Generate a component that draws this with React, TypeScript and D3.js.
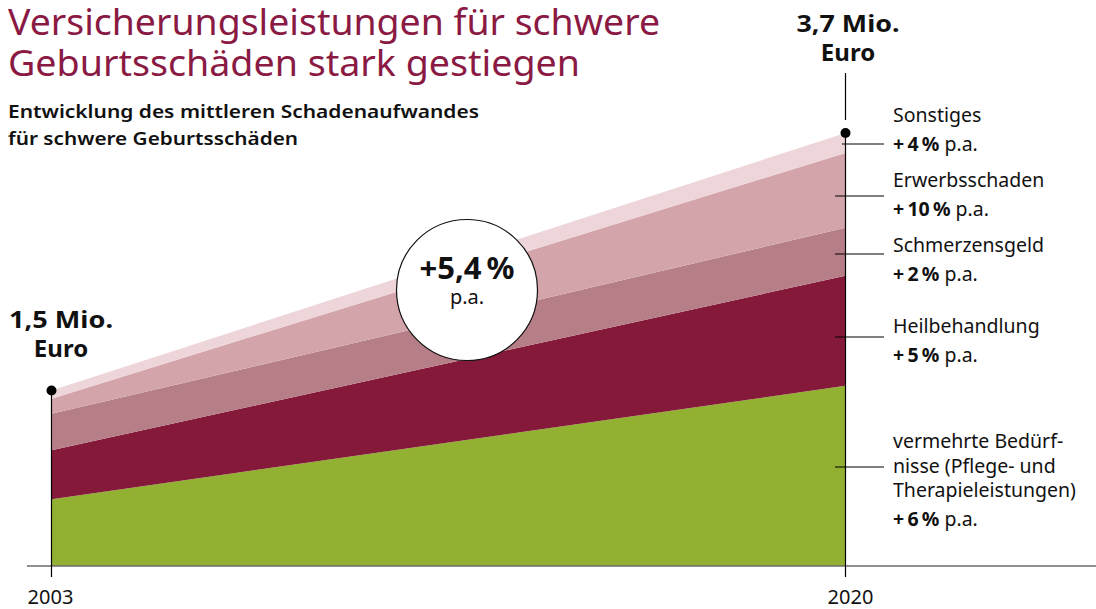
import React from "react";
import * as d3 from "d3";

const years = [2003, 2020];
const seriesNames = ["vermehrte Bedürfnisse", "Heilbehandlung", "Schmerzensgeld", "Erwerbsschaden", "Sonstiges"];
const vermehrteBeduerfnisse = [0.57, 1.54];
const heilbehandlung = [0.42, 0.94];
const schmerzensgeld = [0.31, 0.41];
const erwerbsschaden = [0.13, 0.64];
const sonstiges = [0.07, 0.17];
const totalLabels = ["1,5 Mio.", "3,7 Mio."];
const growthLabels = ["+\u202F6\u202F%", "+\u202F5\u202F%", "+\u202F2\u202F%", "+\u202F10\u202F%", "+\u202F4\u202F%"];
const overallGrowth = "+5,4\u202F%";

const colors = ["#92b132", "#851939", "#b67f88", "#d3a4aa", "#edd5d9"];
const FONT = "'Noto Sans', 'Open Sans', sans-serif";

export default function App() {
  const W = 1096, H = 609;
  const x = d3.scaleLinear().domain([2003, 2020]).range([51.5, 845.5]);
  const y = d3.scaleLinear().domain([0, 3.7]).range([566, 133]);

  const rows = years.map((yr, i) => ({
    year: yr,
    s0: vermehrteBeduerfnisse[i],
    s1: heilbehandlung[i],
    s2: schmerzensgeld[i],
    s3: erwerbsschaden[i],
    s4: sonstiges[i],
  }));
  const stack = d3.stack<any>().keys(["s0", "s1", "s2", "s3", "s4"]);
  const layers = stack(rows);
  const area = d3
    .area<any>()
    .x((d) => x(d.data.year))
    .y0((d) => y(d[0]))
    .y1((d) => y(d[1]));

  const total0 = layers[4][0][1];
  const total1 = layers[4][1][1];

  const labelDefs = [
    { lines: ["Sonstiges"], lineY: 144, top: 122, x1: 842 },
    { lines: ["Erwerbsschaden"], lineY: 196, top: 187, x1: 835 },
    { lines: ["Schmerzensgeld"], lineY: 254, top: 252, x1: 835 },
    { lines: ["Heilbehandlung"], lineY: 337, top: 333, x1: 835 },
    { lines: ["vermehrte Bedürf-", "nisse (Pflege- und", "Therapieleistungen)"], lineY: 467, top: 448, x1: 835 },
  ];
  const growthOrder = [4, 3, 2, 1, 0];

  return (
    <svg width={W} height={H} style={{ position: "absolute", left: 0, top: 0, background: "#fff" }} fontFamily={FONT}>
      <text x={8} y={35} fontSize={36} fill="#8a1a43" textLength={652} lengthAdjust="spacingAndGlyphs">
        Versicherungsleistungen für schwere
      </text>
      <text x={8} y={76} fontSize={36} fill="#8a1a43" textLength={572} lengthAdjust="spacingAndGlyphs">
        Geburtsschäden stark gestiegen
      </text>
      <text x={8} y={118} fontSize={18.5} fontWeight={600} fill="#111" textLength={471} lengthAdjust="spacingAndGlyphs">
        Entwicklung des mittleren Schadenaufwandes
      </text>
      <text x={8} y={145} fontSize={18.5} fontWeight={600} fill="#111" textLength={290} lengthAdjust="spacingAndGlyphs">
        für schwere Geburtsschäden
      </text>

      {layers.map((l, i) => (
        <path key={i} d={area(l) || ""} fill={colors[i]} />
      ))}

      <line x1={27} x2={1096} y1={566} y2={566} stroke="#6b6b6b" strokeWidth={1.5} />
      <line x1={x(2003)} x2={x(2003)} y1={y(total0)} y2={577} stroke="#000" strokeWidth={1.2} />
      <line x1={x(2020)} x2={x(2020)} y1={y(total1)} y2={577} stroke="#000" strokeWidth={1.2} />
      <line x1={x(2020)} x2={x(2020)} y1={73} y2={120} stroke="#000" strokeWidth={1.2} />
      <circle cx={x(2003)} cy={y(total0)} r={5} fill="#000" />
      <circle cx={x(2020)} cy={y(total1)} r={5} fill="#000" />

      <text x={61} y={328} fontSize={24} fontWeight={700} textAnchor="middle" fill="#111" textLength={104} lengthAdjust="spacingAndGlyphs">{totalLabels[0]}</text>
      <text x={61} y={357} fontSize={24} fontWeight={700} textAnchor="middle" fill="#111">Euro</text>
      <text x={848} y={32} fontSize={24} fontWeight={700} textAnchor="middle" fill="#111" textLength={103} lengthAdjust="spacingAndGlyphs">{totalLabels[1]}</text>
      <text x={848} y={61} fontSize={24} fontWeight={700} textAnchor="middle" fill="#111">Euro</text>

      <circle cx={467} cy={290} r={70.5} fill="#fff" stroke="#111" strokeWidth={1.2} />
      <text x={467} y={279} fontSize={31} fontWeight={700} textAnchor="middle" fill="#111">{overallGrowth}</text>
      <text x={467} y={304} fontSize={20} textAnchor="middle" fill="#111">p.a.</text>

      {labelDefs.map((lb, i) => (
        <g key={i}>
          <line x1={lb.x1} x2={884} y1={lb.lineY} y2={lb.lineY} stroke="#000" strokeWidth={1} />
          {lb.lines.map((t, j) => (
            <text key={j} x={893} y={lb.top + j * 24.5} fontSize={19.5} fill="#111">{t}</text>
          ))}
          <text x={893} y={lb.top + (lb.lines.length - 1) * 24.5 + 29} fontSize={19.5} fill="#111">
            <tspan fontWeight={700}>{growthLabels[growthOrder[i]]}</tspan>
            <tspan> p.a.</tspan>
          </text>
        </g>
      ))}

      {years.map((yr) => (
        <text key={yr} x={x(yr) + (yr === 2020 ? 5 : -1)} y={604} fontSize={20} textAnchor="middle" fill="#111">{yr}</text>
      ))}
    </svg>
  );
}
